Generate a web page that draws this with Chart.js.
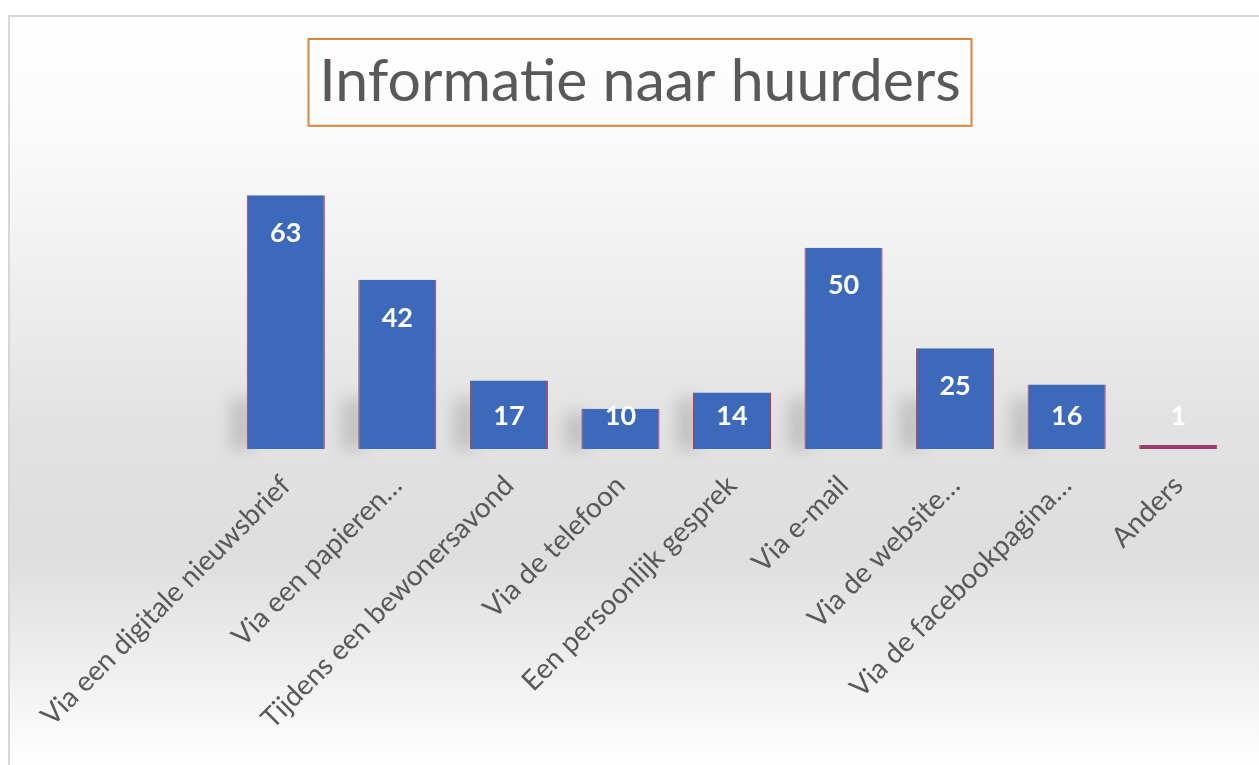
<!DOCTYPE html>
<html>
<head>
<meta charset="utf-8">
<script src="https://cdn.jsdelivr.net/npm/chart.js@4"></script>
<style>
  html, body { margin: 0; padding: 0; background: #ffffff; }
  #wrap { position: relative; width: 1259px; height: 765px; }
</style>
</head>
<body>
<div id="wrap"><canvas id="c" width="1259" height="765"></canvas></div>
<script>
const titleText = 'Informatie naar huurders';
const categories = [
  'Via een digitale nieuwsbrief',
  'Via een papieren…',
  'Tijdens een bewonersavond',
  'Via de telefoon',
  'Een persoonlijk gesprek',
  'Via e-mail',
  'Via de website…',
  'Via de facebookpagina…',
  'Anders'
];
const counts = [63, 42, 17, 10, 14, 50, 25, 16, 1];
const valueMin = 0;
const valueMax = 80;

const FONT = 'Lato, "Open Sans", "Noto Sans", sans-serif';
const TITLE_SIZE = 59;
const TITLE_WEIGHT = '400';

const bgPlugin = {
  id: 'bg',
  beforeDraw(chart) {
    const ctx = chart.ctx;
    const W = chart.width, H = chart.height;
    ctx.save();
    ctx.fillStyle = '#ffffff';
    ctx.fillRect(0, 0, W, H);
    const g = ctx.createLinearGradient(0, 15, 0, H);
    g.addColorStop(0, '#ffffff');
    g.addColorStop(0.15, '#fbfbfb');
    g.addColorStop(0.35, '#efefef');
    g.addColorStop(0.55, '#e2e2e2');
    g.addColorStop(0.72, '#dedede');
    g.addColorStop(0.88, '#f0f0f0');
    g.addColorStop(1, '#ffffff');
    ctx.fillStyle = g;
    ctx.fillRect(9, 16, W - 9, H - 16);
    ctx.strokeStyle = '#d6d6d6';
    ctx.lineWidth = 2;
    ctx.beginPath();
    ctx.moveTo(9, H);
    ctx.lineTo(9, 16);
    ctx.lineTo(W, 16);
    ctx.stroke();
    ctx.restore();
  },
  afterDraw(chart) {
    const ctx = chart.ctx;
    const tb = chart.titleBlock;
    if (!tb) return;
    ctx.save();
    ctx.font = TITLE_WEIGHT + ' ' + TITLE_SIZE + 'px ' + FONT;
    const w = ctx.measureText(titleText).width;
    const cxT = tb.left + tb.width / 2;
    ctx.strokeStyle = '#d9853b';
    ctx.lineWidth = 2;
    ctx.strokeRect(Math.round(cxT - w / 2 - 11) + 0.5, tb.top + 1, Math.round(w + 22), tb.height - 2);
    ctx.restore();
  }
};

const shadowPlugin = {
  id: 'barShadow',
  beforeDatasetsDraw(chart) {
    const ctx = chart.ctx;
    const meta = chart.getDatasetMeta(0);
    ctx.save();
    ctx.filter = 'blur(8px)';
    ctx.fillStyle = 'rgba(0,0,0,0.15)';
    meta.data.forEach((bar) => {
      const h = Math.min(55, bar.base - bar.y);
      if (h < 8) return;
      const left = bar.x - bar.width / 2;
      ctx.fillRect(left - 16, bar.base - h + 4, 22, h - 4);
    });
    ctx.restore();
  }
};

const labelPlugin = {
  id: 'valueLabels',
  afterDatasetsDraw(chart) {
    const ctx = chart.ctx;
    const meta = chart.getDatasetMeta(0);
    ctx.save();
    ctx.font = 'bold 27px ' + FONT;
    ctx.fillStyle = '#ffffff';
    ctx.textAlign = 'center';
    ctx.textBaseline = 'middle';
    meta.data.forEach((bar, i) => {
      const y = Math.min(bar.y + 38, bar.base - 33);
      ctx.fillText(String(chart.data.datasets[0].data[i]), bar.x, y);
    });
    ctx.restore();
  }
};

function barFill(context) {
  const chart = context.chart;
  if (context.raw !== undefined && context.raw < 2) return '#9a3d6c';
  const el = context.element;
  if (!chart.chartArea || !el || el.width === undefined) return '#3d69bb';
  const x0 = el.x - el.width / 2, x1 = el.x + el.width / 2;
  const g = chart.ctx.createLinearGradient(x0, 0, x1, 0);
  g.addColorStop(0, '#345fb2');
  g.addColorStop(0.5, '#3d69bb');
  g.addColorStop(1, '#3460b2');
  return g;
}

new Chart(document.getElementById('c'), {
  type: 'bar',
  data: {
    labels: categories,
    datasets: [{
      data: counts,
      backgroundColor: barFill,
      borderColor: '#d6252e',
      borderWidth: { left: 1, right: 1, top: 0, bottom: 0 },
      borderSkipped: false,
      barPercentage: 0.7,
      categoryPercentage: 1.0
    }]
  },
  options: {
    responsive: false,
    animation: false,
    devicePixelRatio: 1,
    layout: { padding: { top: 38, left: 21, right: 0, bottom: 0 } },
    plugins: {
      legend: { display: false },
      tooltip: { enabled: false },
      title: {
        display: true,
        text: titleText,
        color: '#595959',
        font: { family: FONT, size: TITLE_SIZE, weight: TITLE_WEIGHT, lineHeight: 1.2 },
        padding: { top: 9, bottom: 9 }
      }
    },
    scales: {
      x: {
        grid: { display: false, drawTicks: false },
        border: { display: false },
        ticks: {
          color: '#595959',
          font: { family: FONT, size: 28 },
          minRotation: 45,
          maxRotation: 45,
          padding: 20,
          autoSkip: false
        },
        afterFit(scale) { scale.height = 316; }
      },
      y: {
        position: 'left',
        min: valueMin,
        max: valueMax,
        grid: { display: false, drawTicks: false },
        border: { display: false },
        ticks: { display: false },
        afterFit(scale) { scale.width = 209; }
      },
      yRight: {
        position: 'right',
        min: valueMin,
        max: valueMax,
        grid: { display: false, drawTicks: false },
        border: { display: false },
        ticks: { display: false },
        afterFit(scale) { scale.width = 25; }
      }
    }
  },
  plugins: [bgPlugin, shadowPlugin, labelPlugin]
});
</script>
</body>
</html>
